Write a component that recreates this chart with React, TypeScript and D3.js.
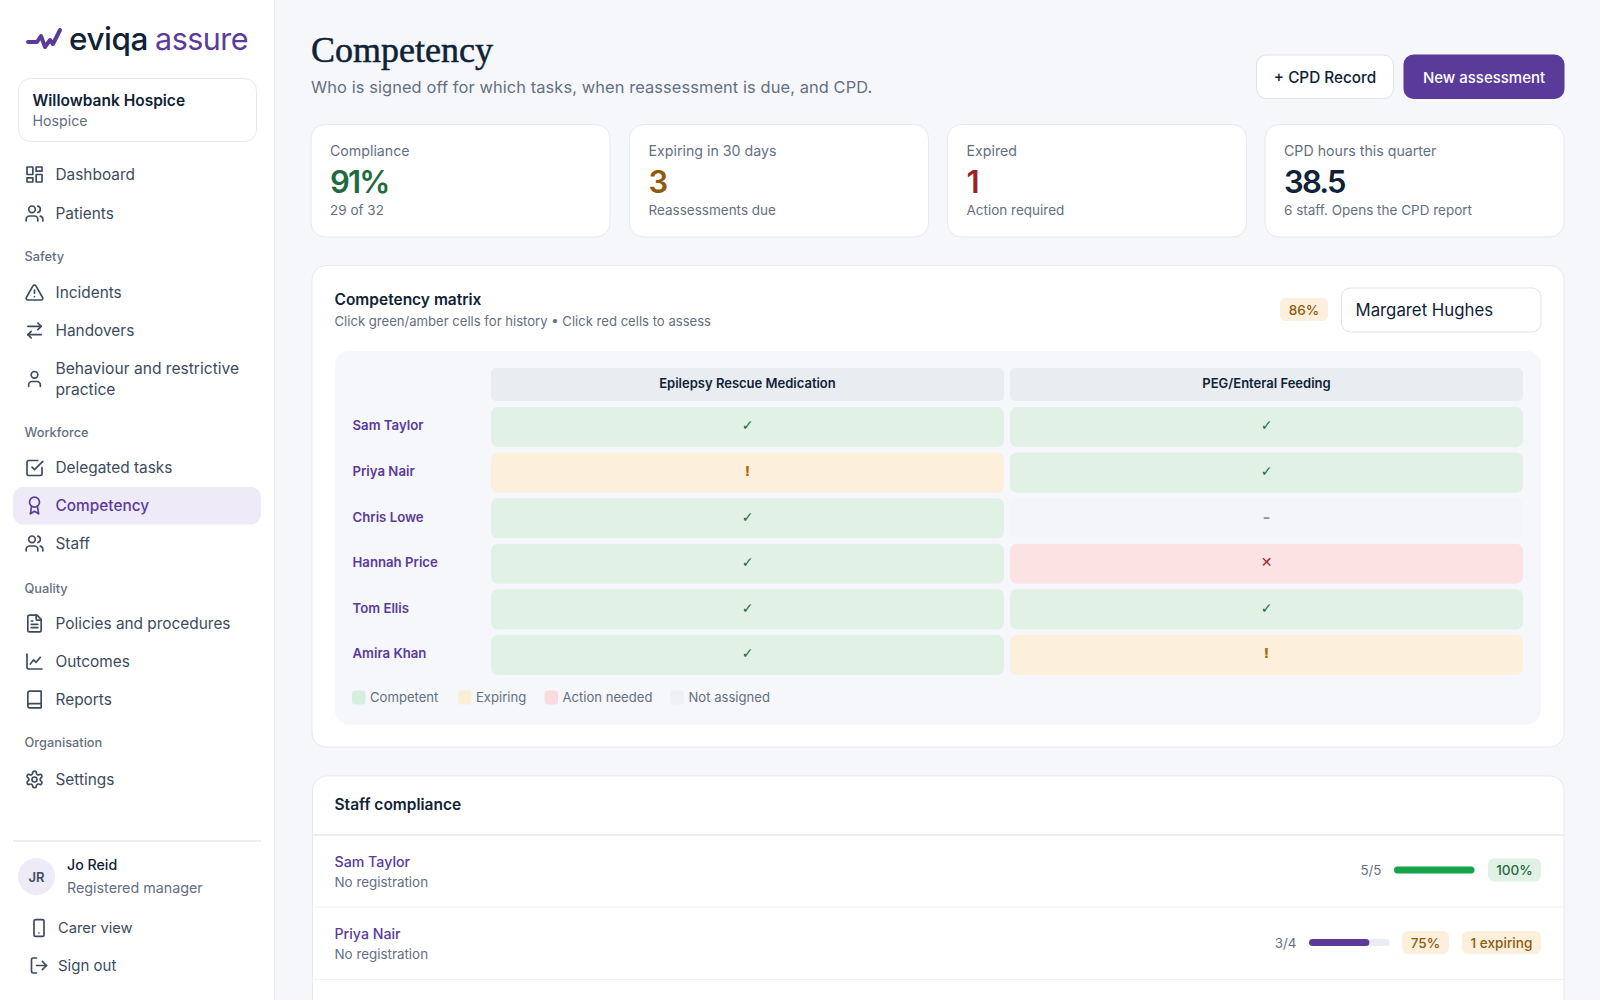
import React from 'react';
import * as d3 from 'd3';

const FONT = 'Inter, "Noto Sans", sans-serif';
const SERIF = '"Liberation Serif", serif';
const INK = '#0f2236';
const MUTED = '#64707f';
const NAVTXT = '#3d4b5c';
const PURPLE = '#5b3b9a';
const LINE = '#e6e9ef';

const navMain = ['Dashboard', 'Patients'];
const navSections = ['Safety', 'Workforce', 'Quality', 'Organisation'];
const statCards = ['Compliance', 'Expiring in 30 days', 'Expired', 'CPD hours this quarter'];
const statValues = ['91%', '3', '1', '38.5'];
const statNotes = ['29 of 32', 'Reassessments due', 'Action required', '6 staff. Opens the CPD report'];
const statColors = ['#1f6b3f', '#8f5a0c', '#a01f2b', INK];

const tasks = ['Epilepsy Rescue Medication', 'PEG/Enteral Feeding'];
const staff = ['Sam Taylor', 'Priya Nair', 'Chris Lowe', 'Hannah Price', 'Tom Ellis', 'Amira Khan'];
const epilepsyStatus = ['ok', 'warn', 'ok', 'ok', 'ok', 'ok'];
const pegStatus = ['ok', 'ok', 'none', 'bad', 'ok', 'warn'];
const statusKeys = ['ok', 'warn', 'bad', 'none'];
const statusNames = ['Competent', 'Expiring', 'Action needed', 'Not assigned'];
const statusFill = ['#e1f1e6', '#fcefdc', '#fbe2e3', '#f3f5f9'];
const statusSwatch = ['#d5efdf', '#fbeed6', '#f9dbdf', '#eef0f5'];
const statusGlyph = ['✓', '!', '✕', '–'];
const statusInk = ['#1f6b3f', '#b4690e', '#a01f2b', '#8a94a3'];

const complianceNames = ['Sam Taylor', 'Priya Nair'];
const complianceDone = [5, 3];
const complianceTotal = [5, 4];

const fill = d3.scaleOrdinal<string, string>().domain(statusKeys).range(statusFill);
const glyph = d3.scaleOrdinal<string, string>().domain(statusKeys).range(statusGlyph);
const glyphInk = d3.scaleOrdinal<string, string>().domain(statusKeys).range(statusInk);
const rowY = d3.scaleBand<string>().domain(staff).range([407, 675]).paddingInner(0.119);
const colX = d3.scaleBand<string>().domain(tasks).range([491, 1523]).paddingInner(0.0116);
const progress = d3.scaleLinear().domain([0, 1]).range([0, 80.5]);
const logoLine = d3.line()([[28, 42], [37, 42], [41, 36], [45, 47], [50, 40], [53, 44], [60, 30]]) || '';

// lucide style glyphs on a 24 box
const icons: Record<string, string[]> = {
  grid: ['M3 3h7v9H3z', 'M14 3h7v5h-7z', 'M14 12h7v9h-7z', 'M3 16h7v5H3z'],
  users: ['M16 21v-2a4 4 0 0 0-4-4H6a4 4 0 0 0-4 4v2', 'M9 3a4 4 0 1 0 0 8a4 4 0 1 0 0-8', 'M22 21v-2a4 4 0 0 0-3-3.87', 'M16 3.13a4 4 0 0 1 0 7.75'],
  alert: ['M21.7 18l-8-14a2 2 0 0 0-3.5 0l-8 14A2 2 0 0 0 4 21h16a2 2 0 0 0 1.7-3', 'M12 9v4', 'M12 17h.01'],
  swap: ['M16 3l4 4-4 4', 'M20 7H4', 'M8 21l-4-4 4-4', 'M4 17h16'],
  user: ['M19 21v-2a4 4 0 0 0-4-4H9a4 4 0 0 0-4 4v2', 'M12 3a4 4 0 1 0 0 8a4 4 0 1 0 0-8'],
  check: ['M21 11.5V19a2 2 0 0 1-2 2H5a2 2 0 0 1-2-2V5a2 2 0 0 1 2-2h11', 'M9 11l3 3L22 4'],
  award: ['M12 2a6 6 0 1 0 0 12a6 6 0 1 0 0-12', 'M15.5 13L17 22l-5-3-5 3 1.5-9'],
  file: ['M15 2H6a2 2 0 0 0-2 2v16a2 2 0 0 0 2 2h12a2 2 0 0 0 2-2V7z', 'M14 2v5a1 1 0 0 0 1 1h5', 'M16 13H8', 'M16 17H8', 'M10 9H8'],
  chart: ['M3 3v16a2 2 0 0 0 2 2h16', 'M7 15l4-5 3 3 5-6'],
  book: ['M4 19.5v-15A2.5 2.5 0 0 1 6.5 2H20v20H6.5a2.5 2.5 0 0 1 0-5H20'],
  gear: ['M12.2 2h-.4a2 2 0 0 0-2 2v.2a2 2 0 0 1-1 1.7l-.4.3a2 2 0 0 1-2 0l-.2-.1a2 2 0 0 0-2.7.7l-.2.4a2 2 0 0 0 .7 2.7l.2.1a2 2 0 0 1 1 1.7v.5a2 2 0 0 1-1 1.7l-.2.1a2 2 0 0 0-.7 2.7l.2.4a2 2 0 0 0 2.7.7l.2-.1a2 2 0 0 1 2 0l.4.3a2 2 0 0 1 1 1.7v.2a2 2 0 0 0 2 2h.4a2 2 0 0 0 2-2v-.2a2 2 0 0 1 1-1.7l.4-.3a2 2 0 0 1 2 0l.2.1a2 2 0 0 0 2.7-.7l.2-.4a2 2 0 0 0-.7-2.7l-.2-.1a2 2 0 0 1-1-1.7v-.5a2 2 0 0 1 1-1.7l.2-.1a2 2 0 0 0 .7-2.7l-.2-.4a2 2 0 0 0-2.7-.7l-.2.1a2 2 0 0 1-2 0l-.4-.3a2 2 0 0 1-1-1.7V4a2 2 0 0 0-2-2z', 'M12 9a3 3 0 1 0 0 6a3 3 0 1 0 0-6'],
  phone: ['M8 2h8a2 2 0 0 1 2 2v16a2 2 0 0 1-2 2H8a2 2 0 0 1-2-2V4a2 2 0 0 1 2-2z', 'M12 18h.01'],
  logout: ['M9 21H5a2 2 0 0 1-2-2V5a2 2 0 0 1 2-2h4', 'M16 17l5-5-5-5', 'M21 12H9'],
};

const navItems: { label: string; icon: string; y: number }[] = [
  { label: navMain[0], icon: 'grid', y: 174.5 },
  { label: navMain[1], icon: 'users', y: 213.5 },
  { label: 'Incidents', icon: 'alert', y: 292.5 },
  { label: 'Handovers', icon: 'swap', y: 330.5 },
  { label: 'Delegated tasks', icon: 'check', y: 468 },
  { label: 'Competency', icon: 'award', y: 505.5 },
  { label: 'Staff', icon: 'users', y: 543.5 },
  { label: 'Policies and procedures', icon: 'file', y: 623.5 },
  { label: 'Outcomes', icon: 'chart', y: 661.5 },
  { label: 'Reports', icon: 'book', y: 699.5 },
  { label: 'Settings', icon: 'gear', y: 779.5 },
];
const sectionY = [256.5, 432, 588, 742];

const Icon = ({ name, cx, cy, size = 20, color = NAVTXT }: { name: string; cx: number; cy: number; size?: number; color?: string }) => (
  <g transform={`translate(${cx - size / 2},${cy - size / 2}) scale(${size / 24})`} fill="none" stroke={color} strokeWidth={2} strokeLinecap="round" strokeLinejoin="round">
    {icons[name].map((d, i) => <path key={i} d={d} />)}
  </g>
);

const T = ({ x, y, s, w = 400, c = INK, a = 'start', f = FONT, ls = 0, children }: any) => (
  <text x={x} y={y} fontSize={s} fontWeight={w} fill={c} textAnchor={a} fontFamily={f} letterSpacing={ls} dominantBaseline="central">{children}</text>
);

const Badge = ({ x, x2, y, label, bg, c }: { x: number; x2: number; y: number; label: string; bg: string; c: string }) => (
  <g>
    <rect x={x} y={y - 11.5} width={x2 - x} height={23} rx={6} fill={bg} />
    <T x={(x + x2) / 2} y={y} s={13.6} w={500} c={c} a="middle">{label}</T>
  </g>
);

const App = () => {
  const cardX = [311, 629.5, 947.5, 1265];
  const legendX = [352, 458, 544.5, 670.5];
  const rowBadges = [
    [{ x: 1488, x2: 1541, label: '100%', bg: '#e1f1e6', c: '#1f6b3f' }],
    [{ x: 1402, x2: 1449, label: '75%', bg: '#fcefdc', c: '#8f5a0c' }, { x: 1462, x2: 1541, label: '1 expiring', bg: '#fcefdc', c: '#8f5a0c' }],
  ];
  const barX = [1394, 1309];
  const barColor = ['#16a34a', PURPLE];
  const rowYs = [870, 942.5];

  return (
    <svg width={1600} height={1000} viewBox="0 0 1600 1000" style={{ position: 'fixed', left: 0, top: 0, background: '#f5f7fb' }}>
      {/* sidebar */}
      <rect x={0} y={0} width={274} height={1000} fill="#fff" />
      <line x1={274.5} x2={274.5} y1={0} y2={1000} stroke={LINE} />
      <path d={logoLine} fill="none" stroke={PURPLE} strokeWidth={4} strokeLinejoin="round" strokeLinecap="round" />
      <T x={69} y={38} s={31.5} w={500} ls={-0.5}>eviqa</T>
      <T x={155} y={38} s={30.5} w={400} c={PURPLE} ls={-0.5}>assure</T>

      <rect x={18.5} y={78.5} width={238} height={63} rx={12} fill="#fff" stroke={LINE} />
      <T x={32.5} y={100} s={15.5} w={600}>Willowbank Hospice</T>
      <T x={32.5} y={120.5} s={14.2} c={MUTED}>Hospice</T>

      {navSections.map((s, i) => <T key={s} x={24.5} y={sectionY[i]} s={12.8} w={500} c={MUTED}>{s}</T>)}
      <rect x={13} y={487} width={248} height={37.5} rx={10} fill="#efeaf8" />
      {navItems.map(n => {
        const on = n.label === 'Competency';
        return (
          <g key={n.label}>
            <Icon name={n.icon} cx={34.5} cy={n.y} color={on ? PURPLE : NAVTXT} />
            <T x={55.5} y={n.y - 0.5} s={15.4} w={on ? 500 : 400} c={on ? PURPLE : NAVTXT}>{n.label}</T>
          </g>
        );
      })}
      <Icon name="user" cx={34.5} cy={379} />
      <T x={55.5} y={368} s={15.6} c={NAVTXT}>Behaviour and restrictive</T>
      <T x={55.5} y={389} s={15.6} c={NAVTXT}>practice</T>

      <line x1={13} x2={261} y1={841} y2={841} stroke={LINE} strokeWidth={1.5} />
      <circle cx={36.5} cy={876.5} r={18.5} fill="#efeaf8" />
      <T x={36.5} y={877} s={13} w={600} c={NAVTXT} a="middle">JR</T>
      <T x={67} y={864.5} s={14.2} w={500}>Jo Reid</T>
      <T x={67} y={887} s={14.3} c={MUTED}>Registered manager</T>
      <Icon name="phone" cx={39} cy={928} />
      <T x={58} y={928} s={14.7} c={NAVTXT}>Carer view</T>
      <Icon name="logout" cx={39} cy={965.5} />
      <T x={58} y={965.5} s={15} c={NAVTXT}>Sign out</T>

      {/* header */}
      <text x={311} y={62} fontFamily={SERIF} fontSize={36} fontWeight={400} fill={INK} stroke={INK} strokeWidth={0.5}>Competency</text>
      <T x={311} y={86.5} s={16.4} c={MUTED} ls={0.1}>Who is signed off for which tasks, when reassessment is due, and CPD.</T>
      <rect x={1256.5} y={55} width={137} height={43.5} rx={10} fill="#fff" stroke="#dfe3ea" />
      <T x={1325} y={77} s={15.3} w={500} a="middle">+ CPD Record</T>
      <rect x={1403.5} y={54.5} width={161} height={44.5} rx={10} fill={PURPLE} />
      <T x={1484} y={77} s={15} w={500} c="#fff" a="middle">New assessment</T>

      {/* stat cards */}
      {statCards.map((s, i) => (
        <g key={s}>
          <rect x={cardX[i]} y={124.5} width={299} height={112.5} rx={14} fill="#fff" stroke={LINE} />
          <T x={cardX[i] + 19} y={150} s={14.2} c={MUTED}>{s}</T>
          <T x={cardX[i] + 19} y={181} s={31} w={600} c={statColors[i]} ls={-1.8}>{statValues[i]}</T>
          <T x={cardX[i] + 19} y={209.5} s={13.5} c={MUTED}>{statNotes[i]}</T>
        </g>
      ))}

      {/* matrix */}
      <rect x={312} y={265.5} width={1252} height={481.5} rx={14} fill="#fff" stroke={LINE} />
      <T x={334.5} y={299} s={15.5} w={600}>Competency matrix</T>
      <T x={334.5} y={320.5} s={13.1} c={MUTED}>Click green/amber cells for history • Click red cells to assess</T>
      <Badge x={1280} x2={1328} y={309.5} label="86%" bg="#fcefdc" c="#8f5a0c" />
      <rect x={1341.5} y={288} width={199.5} height={44} rx={9} fill="#fff" stroke="#dfe3ea" />
      <T x={1355.5} y={310} s={16.8}>Margaret Hughes</T>

      <rect x={335} y={351} width={1206} height={373.5} rx={14} fill="#f5f7fb" />
      {tasks.map(t => (
        <g key={t}>
          <rect x={colX(t)} y={368} width={colX.bandwidth()} height={33} rx={5} fill="#e9ecf1" />
          <T x={colX(t)! + colX.bandwidth() / 2} y={383} s={13} w={600} a="middle">{t}</T>
        </g>
      ))}
      {staff.map((name, r) => {
        const cy = rowY(name)! + rowY.bandwidth() / 2 - 1.7;
        return (
          <g key={name}>
            <T x={352.5} y={cy} s={13.2} w={600} c={PURPLE}>{name}</T>
            {[epilepsyStatus[r], pegStatus[r]].map((st, c) => (
              <g key={c}>
                <rect x={colX(tasks[c])} y={rowY(name)} width={colX.bandwidth()} height={rowY.bandwidth()} rx={7} fill={fill(st)} />
                <text x={colX(tasks[c])! + colX.bandwidth() / 2} y={cy} fontSize={14} fontWeight={700} fill={glyphInk(st)} textAnchor="middle" dominantBaseline="central" fontFamily={'"DejaVu Sans", sans-serif'}>{glyph(st)}</text>
              </g>
            ))}
          </g>
        );
      })}
      {statusNames.map((s, i) => (
        <g key={s}>
          <rect x={legendX[i]} y={690.5} width={13.5} height={14} rx={3.5} fill={statusSwatch[i]} />
          <T x={legendX[i] + 18} y={696.5} s={13.1} c={MUTED}>{s}</T>
        </g>
      ))}

      {/* staff compliance */}
      <path d="M312.5 1000V790a14 14 0 0 1 14-14H1550a14 14 0 0 1 14 14V1000" fill="#fff" stroke={LINE} />
      <T x={334.5} y={804} s={15.5} w={600}>Staff compliance</T>
      <line x1={312} x2={1564} y1={835} y2={835} stroke={LINE} strokeWidth={1.5} />
      <line x1={312} x2={1564} y1={907} y2={907} stroke="#f1f3f7" />
      <line x1={312} x2={1564} y1={979.5} y2={979.5} stroke="#f1f3f7" />
      {complianceNames.map((name, i) => {
        const frac = complianceDone[i] / complianceTotal[i];
        return (
          <g key={name}>
            <T x={334.5} y={rowYs[i] - 9} s={14.2} w={500} c={PURPLE}>{name}</T>
            <T x={334.5} y={rowYs[i] + 11.5} s={13.4} c={MUTED}>No registration</T>
            <T x={barX[i] - 12.5} y={rowYs[i]} s={13.4} c={MUTED} a="end">{`${complianceDone[i]}/${complianceTotal[i]}`}</T>
            <rect x={barX[i]} y={rowYs[i] - 3.5} width={progress(1)} height={7} rx={3.5} fill="#e9ecf4" />
            <rect x={barX[i]} y={rowYs[i] - 3.5} width={progress(frac)} height={7} rx={3.5} fill={barColor[i]} />
            {rowBadges[i].map(b => <Badge key={b.label} {...b} y={rowYs[i]} />)}
          </g>
        );
      })}
    </svg>
  );
};

export default App;
